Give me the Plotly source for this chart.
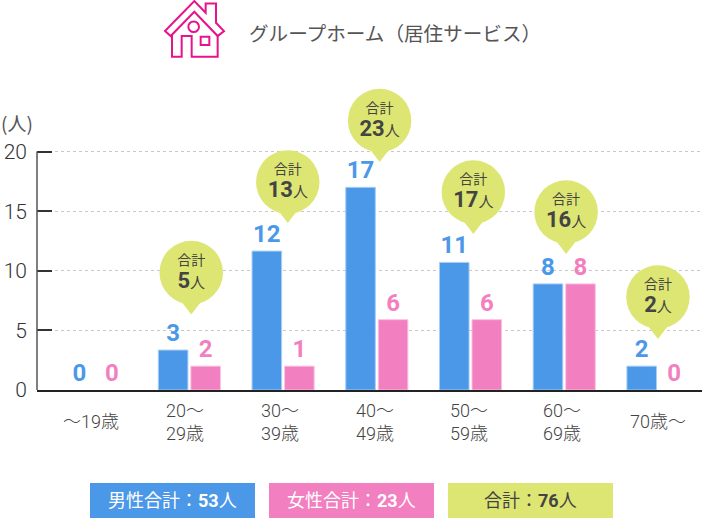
import plotly.graph_objects as go

# ---- data ----
age_labels = ["〜19歳", "20〜<br>29歳", "30〜<br>39歳", "40〜<br>49歳", "50〜<br>59歳", "60〜<br>69歳", "70歳〜"]
age_label_x = [-0.045, 0.955, 1.97, 2.98, 3.98, 4.98, 6.0]
group_x = [0, 1, 2, 3, 4, 5, 6]
male_bar = [0, 3.35, 11.65, 17, 10.7, 8.9, 2]
female_bar = [0, 2, 2, 5.9, 5.9, 8.9, 0]
male_label = ["0", "3", "12", "17", "11", "8", "2"]
female_label = ["0", "2", "1", "6", "6", "8", "0"]
bubble_x = [1.02, 2.05, 3.03, 4.03, 5.02, 6.0]
bubble_y = [9.85, 17.44, 22.6, 16.6, 14.93, 7.8]
bubble_tail_y = [6.33, 14.0, 19.12, 13.08, 11.4, 4.28]
bubble_total = ["5", "13", "23", "17", "16", "2"]
y_ticks = [0, 5, 10, 15, 20]

BLUE, PINK, GREEN = "#4c98e8", "#f27fc0", "#dde672"
DARK = "#444444"
FONT = "Roboto, 'Noto Sans CJK JP', sans-serif"
CJK = "'Noto Sans CJK JP', sans-serif"
MAG = "#e8128c"

W, H = 702, 518
UNIT = 11.925
Y_TOP = 26
L, R, B = 37, 702, 390
T = B - Y_TOP * UNIT


def px(x):
    return (x - L) / (R - L)


def py(y):
    return (B - y) / (B - T)


fig = go.Figure()
fig.add_bar(x=group_x, y=male_bar, name="男性",
            marker=dict(color=BLUE, line=dict(color="#a9cdf4", width=[0 if v == 0 else 1 for v in male_bar])),
            text=male_label, textposition="outside", textangle=0, cliponaxis=False,
            textfont=dict(family=FONT, size=24, color=BLUE, weight=700))
fig.add_bar(x=group_x, y=female_bar, name="女性",
            marker=dict(color=PINK, line=dict(color="#f9c3e2", width=[0 if v == 0 else 1 for v in female_bar])),
            text=female_label, textposition="outside", textangle=0, cliponaxis=False,
            textfont=dict(family=FONT, size=24, color=PINK, weight=700))

# speech bubbles: tail then circle, then text
fig.add_scatter(x=bubble_x, y=[t + 0.755 for t in bubble_tail_y], mode="markers", showlegend=False,
                marker=dict(symbol="triangle-down", size=18, color=GREEN, line=dict(width=0)))
fig.add_scatter(x=bubble_x, y=bubble_y, mode="markers", showlegend=False,
                marker=dict(symbol="circle", size=63.5, color=GREEN, line=dict(width=0)))
fig.add_scatter(x=bubble_x, y=[v + 0.95 for v in bubble_y], mode="text", showlegend=False,
                text=["合計"] * len(bubble_x), textposition="middle center",
                textfont=dict(family=CJK, size=14, color=DARK))
fig.add_scatter(x=bubble_x, y=[v - 0.8 for v in bubble_y], mode="text", showlegend=False,
                text=[f"<b>{t}</b><span style='font-size:15px'>人</span>" for t in bubble_total],
                textposition="middle center",
                textfont=dict(family=FONT, size=22, color=DARK))

annotations = []


def note(x, y, text, size, color=DARK, family=FONT, xanchor="center"):
    annotations.append(dict(xref="paper", yref="paper", x=px(x), y=py(y), text=text, showarrow=False,
                            xanchor=xanchor, yanchor="middle", align="center",
                            font=dict(family=family, size=size, color=color)))


# category labels
for lx, lab in zip(age_label_x, age_labels):
    annotations.append(dict(xref="x", yref="paper", x=lx, y=py(422), text=lab, showarrow=False,
                            xanchor="center", yanchor="middle", align="center",
                            font=dict(family=FONT, size=18, color="#444444", weight=300)))

note(17, 122.5, "(人)", 19, color="#555555", family=CJK)
note(395, 32, "グループホーム（居住サービス）", 19.6, color="#555555", family=CJK)

shapes = [dict(type="line", xref="paper", yref="y", x0=0, x1=0, y0=0, y1=y_ticks[-1],
               line=dict(color="#555555", width=1.5))]
for x0, x1, col, txt, tcol in [
    (90, 255, BLUE, "男性合計：<b>53</b>人", "white"),
    (269, 434, PINK, "女性合計：<b>23</b>人", "white"),
    (448, 613, GREEN, "合計：<b>76</b>人", DARK),
]:
    shapes.append(dict(type="rect", xref="paper", yref="paper", x0=px(x0), x1=px(x1), y0=py(483), y1=py(518),
                       fillcolor=col, line=dict(width=0), layer="below"))
    note((x0 + x1) / 2, 501, txt, 18, color=tcol)


# house icon (pixel outline converted to paper space)
def pth(points, close=True):
    s = ""
    for i, (a, b) in enumerate(points):
        s += ("M" if i == 0 else "L") + f"{px(150 + a / 3):.5f},{py(b / 3):.5f} "
    return s + ("Z" if close else "")


icon_line = dict(color=MAG, width=2)
shapes.append(dict(type="path", xref="paper", yref="paper", line=icon_line,
                   path=pth([(45, 93), (133, 3), (167, 38), (167, 10), (198, 10), (198, 68), (222, 93),
                             (203, 108), (133, 35), (62, 108)])))
shapes.append(dict(type="path", xref="paper", yref="paper", line=icon_line,
                   path=pth([(66, 103), (66, 170), (95, 170), (95, 108), (125, 108), (125, 170), (203, 170), (203, 103)], close=False)))
shapes.append(dict(type="circle", xref="paper", yref="paper", line=icon_line,
                   x0=px(150 + 115 / 3), x1=px(150 + 147 / 3), y0=py(96 / 3), y1=py(64 / 3)))
shapes.append(dict(type="rect", xref="paper", yref="paper", line=icon_line,
                   x0=px(150 + 152 / 3), x1=px(150 + 178 / 3), y0=py(135 / 3), y1=py(110 / 3)))

fig.update_layout(
    width=W, height=H, autosize=False,
    margin=dict(l=L, r=W - R, t=T, b=H - B, pad=0),
    paper_bgcolor="white", plot_bgcolor="white",
    barmode="group", bargap=0.306, bargroupgap=0.09,
    showlegend=False, annotations=annotations, shapes=shapes,
    xaxis=dict(range=[-0.626, 6.47], showgrid=False, zeroline=False, showline=True, linecolor="#222222",
               linewidth=2, showticklabels=False, ticks=""),
    yaxis=dict(range=[0, Y_TOP], tickvals=y_ticks, ticks="inside", ticklen=15, tickcolor="#333333", tickwidth=1.5,
               showline=False, zeroline=False,
               showgrid=True, gridcolor="#c8c8c8", griddash="dot", gridwidth=1,
               tickfont=dict(family="Roboto", size=21, color="#333333", weight=300), ticklabelstandoff=9),
)
fig.write_html("out.html", post_script="document.body.style.margin='0';", config=dict(displayModeBar=False))
